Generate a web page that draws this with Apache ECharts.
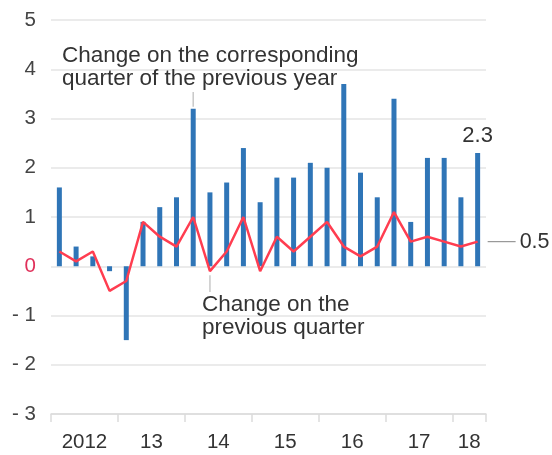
<!DOCTYPE html>
<html>
<head>
<meta charset="utf-8">
<script src="https://cdn.jsdelivr.net/npm/echarts@6/dist/echarts.min.js"></script>
<style>
html,body{margin:0;padding:0;background:#fff;}
#c{width:552px;height:455px;}
</style>
</head>
<body>
<div id="c"></div>
<script>
// Quarters 2012 Q1 .. 2018 Q2
const quarters = ["12Q1","12Q2","12Q3","12Q4","13Q1","13Q2","13Q3","13Q4","14Q1","14Q2","14Q3","14Q4","15Q1","15Q2","15Q3","15Q4","16Q1","16Q2","16Q3","16Q4","17Q1","17Q2","17Q3","17Q4","18Q1","18Q2"];
// Change on the corresponding quarter of the previous year (bars)
const yoy = [1.6,0.4,0.2,-0.1,-1.5,0.9,1.2,1.4,3.2,1.5,1.7,2.4,1.3,1.8,1.8,2.1,2.0,3.7,1.9,1.4,3.4,0.9,2.2,2.2,1.4,2.3];
// Change on the previous quarter (line)
const qoq = [0.3,0.1,0.3,-0.5,-0.3,0.9,0.6,0.4,1.0,-0.1,0.3,1.0,-0.1,0.6,0.3,0.6,0.9,0.4,0.2,0.4,1.1,0.5,0.6,0.5,0.4,0.5];
// Year axis: tick boundaries (in quarters) and label positions
const yearTicks = [0,4,8,12,16,20,24,26];
const yearLabelPos = [2,6,10,14,18,22,25];
const yearLabels = ["2012","13","14","15","16","17","18"];
const yTicks = {min:-3, max:5, interval:1};

const FONT = "Liberation Sans";
const chart = echarts.init(document.getElementById('c'), null, {renderer:'canvas'});
const last = yoy.length - 1;

chart.setOption({
  animation:false,
  textStyle:{fontFamily:FONT},
  grid:{left:51, right:66, top:20, bottom:41, containLabel:false},
  xAxis:[
    {type:'category', data:quarters, boundaryGap:true,
     axisLine:{show:false}, axisTick:{show:false}, axisLabel:{show:false}, splitLine:{show:false}},
    {type:'value', min:0, max:26, position:'bottom',
     axisLine:{show:true, onZero:false, lineStyle:{color:'#dcdcdc', width:1.5}},
     axisTick:{show:true, customValues:yearTicks, length:8, lineStyle:{color:'#dcdcdc', width:1.5}},
     axisLabel:{show:true, customValues:yearLabelPos, margin:18, color:'#333', fontSize:20.5, fontFamily:FONT,
       formatter:v=>{const i=yearLabelPos.indexOf(v); return i>=0?yearLabels[i]:'';}},
     splitLine:{show:false}}
  ],
  yAxis:{type:'value', min:yTicks.min, max:yTicks.max, interval:yTicks.interval,
    axisLine:{show:false}, axisTick:{show:false},
    axisLabel:{margin:15, fontSize:20.5, fontFamily:FONT,
      color:(v)=> (Number(v)===0 ? '#e0305a' : '#444'),
      formatter:v=> v<0 ? '- ' + Math.abs(v) : String(v)},
    splitLine:{lineStyle:{color:'#e4e4e4', width:1.5}}},
  series:[
    {type:'bar', xAxisIndex:0, yAxisIndex:0, barWidth:5,
     itemStyle:{color:'#2f75b7'},
     data: yoy.map((v,i)=> i===last ? {value:v, label:{show:true, position:'top', distance:6, color:'#333', fontSize:22, fontFamily:FONT, formatter:String(v)}} : v)},
    {type:'line', xAxisIndex:0, yAxisIndex:0, data:qoq, symbol:'none',
     lineStyle:{color:'#ff3d50', width:2.5}, z:3}
  ]
});

// Annotations positioned from data via the chart's scales
const pBar = chart.convertToPixel({xAxisIndex:0, yAxisIndex:0}, [8, yoy[8]]);
const pQ = chart.convertToPixel({xAxisIndex:0, yAxisIndex:0}, [9, qoq[9]]);
const pEnd = chart.convertToPixel({xAxisIndex:0, yAxisIndex:0}, [last, qoq[last]]);
const txt = {fontFamily:FONT, fontSize:22.5, fill:'#333', lineHeight:23};
chart.setOption({
  graphic:[
    {type:'text', left:62, top:44, style:Object.assign({text:'Change on the corresponding\nquarter of the previous year'}, txt), z:10},
    {type:'line', shape:{x1:pBar[0], y1:pBar[1]-2, x2:pBar[0], y2:92}, style:{stroke:'#c8c8c8', lineWidth:1.5}, z:9},
    {type:'line', shape:{x1:pQ[0], y1:pQ[1]+4, x2:pQ[0], y2:292}, style:{stroke:'#c8c8c8', lineWidth:1.5}, z:9},
    {type:'text', left:202, top:293, style:Object.assign({text:'Change on the\nprevious quarter'}, txt), z:10},
    {type:'line', shape:{x1:pEnd[0]+10, y1:pEnd[1], x2:pEnd[0]+38, y2:pEnd[1]}, style:{stroke:'#999', lineWidth:1.2}, z:9},
    {type:'text', x:pEnd[0]+42, y:pEnd[1], style:Object.assign({text:String(qoq[last]), verticalAlign:'middle'}, txt, {fontSize:21.5}), z:10}
  ]
});
</script>
</body>
</html>
